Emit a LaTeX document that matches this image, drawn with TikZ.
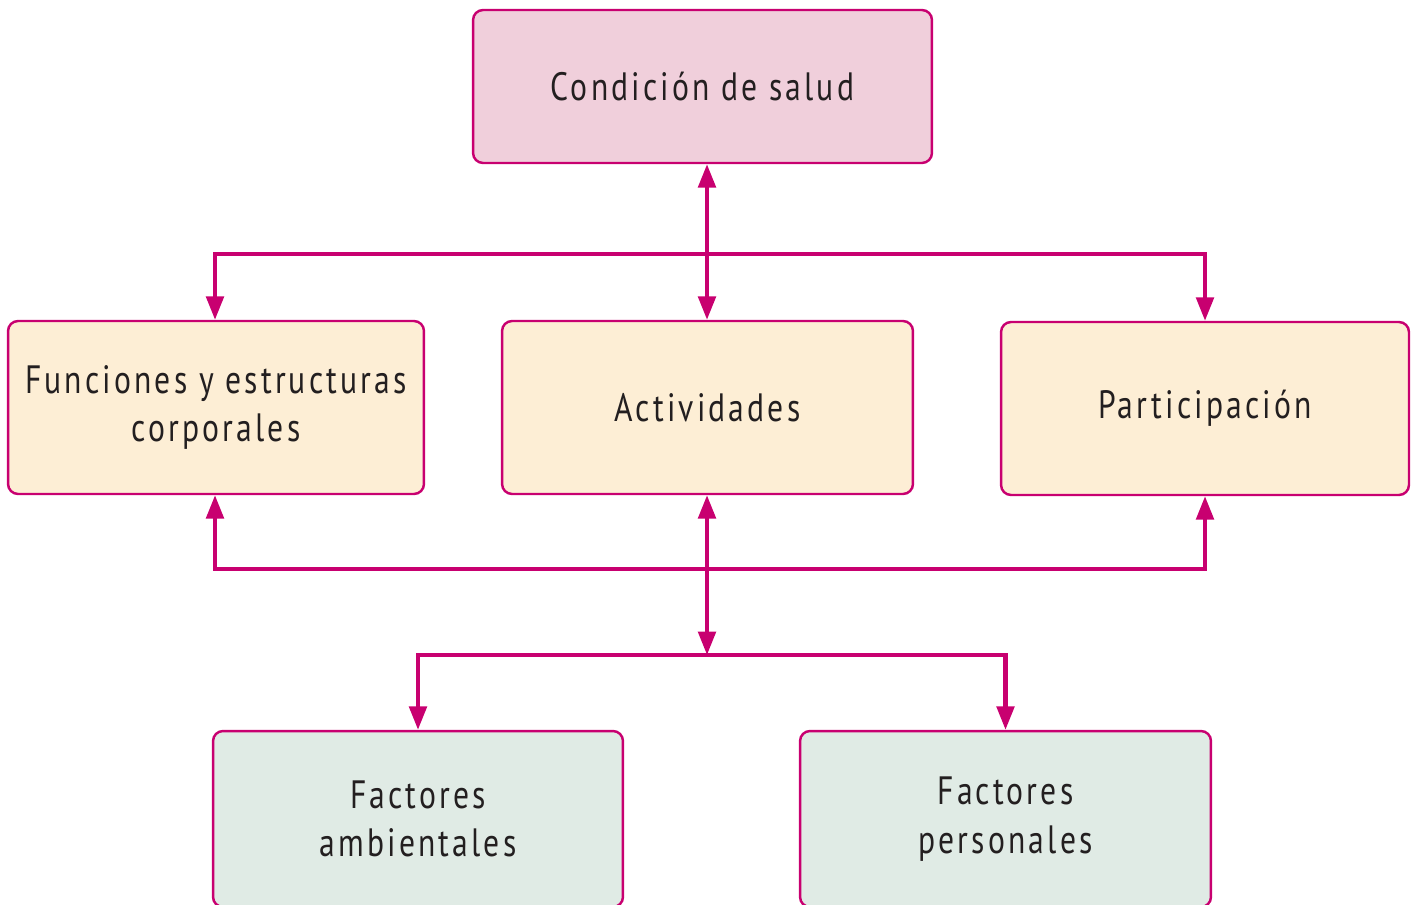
\documentclass[tikz,border=0pt]{standalone}
\usepackage{fontspec}
\setmainfont[FakeStretch=0.80,LetterSpace=8]{PT Sans}
\usetikzlibrary{arrows.meta}
\definecolor{borde}{RGB}{200,0,112}
\definecolor{rosa}{RGB}{240,207,219}
\definecolor{crema}{RGB}{253,238,213}
\definecolor{verde}{RGB}{224,235,229}
\definecolor{texto}{RGB}{35,31,32}
\tikzset{
  caja/.style={draw=borde, line width=1.4pt, rounded corners=0.2cm, align=center,
    text=texto, font=\fontsize{22.5}{27.5}\selectfont, inner sep=0pt},
  flecha/.style={draw=borde, line width=2.3pt}
}
\begin{document}
\begin{tikzpicture}[x=0.02cm, y=-0.02cm, >={Triangle[length=0.47cm,width=0.35cm]}]
	\useasboundingbox (0,0) rectangle (1419,905);
	% cajas
	\node[caja, fill=rosa, minimum width=9.18cm, minimum height=3.06cm] (salud) at (702.5,86.5) {Condición de salud};
	\node[caja, fill=crema, minimum width=8.32cm, minimum height=3.46cm] (funciones) at (216,407.5) {Funciones y estructuras\\corporales};
	\node[caja, fill=crema, minimum width=8.22cm, minimum height=3.46cm] (actividades) at (707.5,407.5) {Actividades};
	\node[caja, fill=crema, minimum width=8.16cm, minimum height=3.46cm] (participacion) at (1205,408.5) {Participación};
	\node[caja, fill=verde, minimum width=8.20cm, minimum height=3.52cm] (ambientales) at (418,819) {Factores\\ambientales};
	\node[caja, fill=verde, minimum width=8.22cm, minimum height=3.52cm] (personales) at (1005.5,819) {Factores\\personales};
	% puntos de union
	\coordinate (arriba) at (707,254);
	\coordinate (medio) at (707,569);
	\coordinate (abajo) at (707,655);
	% conectores
	\draw[flecha, <->] (actividades.north -| arriba) -- (arriba |- salud.south);
	\draw[flecha, ->] (arriba) -| (funciones.north -| 215,0);
	\draw[flecha, ->] (arriba) -| (participacion.north);
	\draw[flecha, ->] (medio) -| (funciones.south -| 215,0);
	\draw[flecha, ->] (medio) -| (participacion.south);
	\draw[flecha, <->] (actividades.south -| medio) -- (abajo);
	\draw[flecha, ->] (abajo) -| (ambientales.north);
	\draw[flecha, ->] (abajo) -| (personales.north);
\end{tikzpicture}
\end{document}
